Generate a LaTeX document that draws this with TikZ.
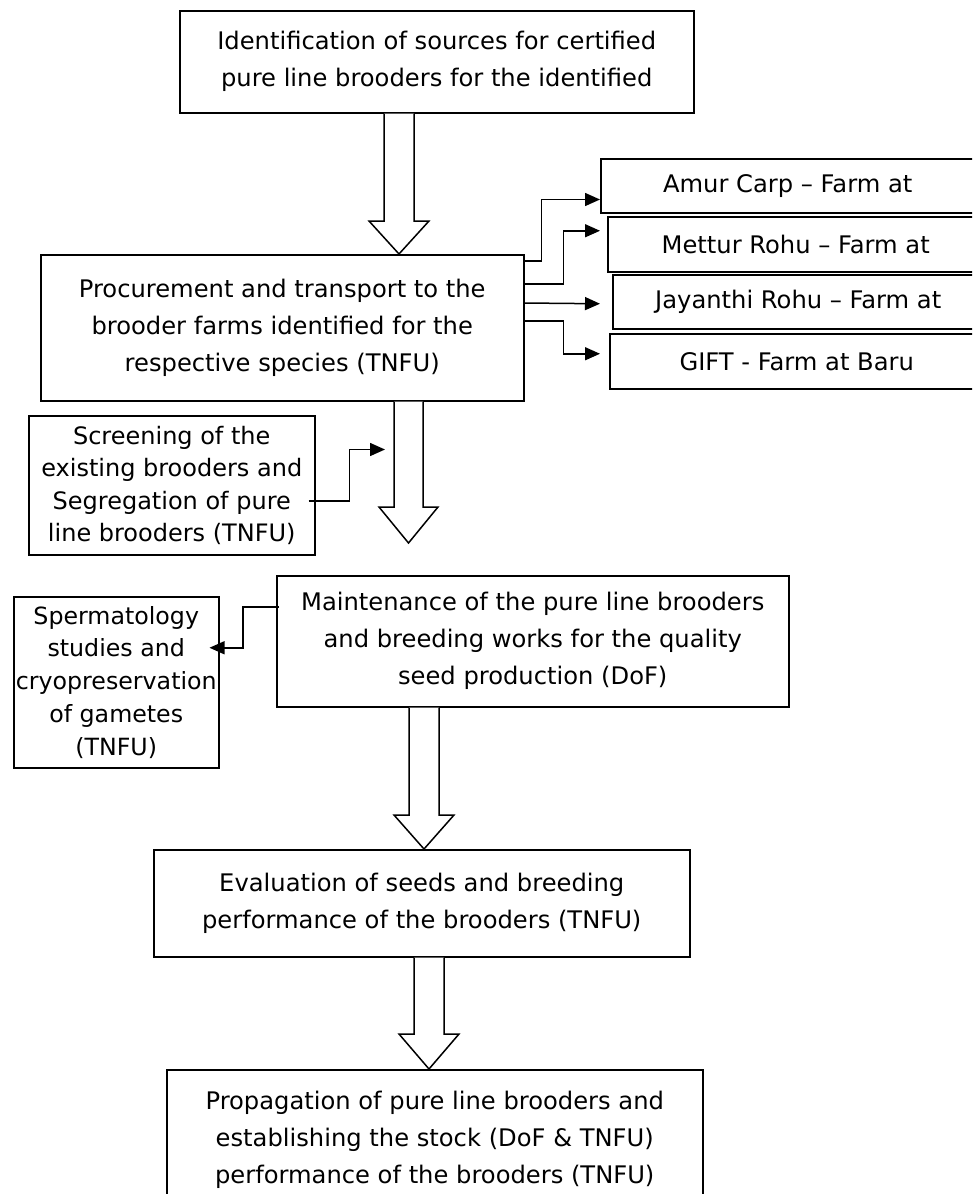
\documentclass[tikz,border=0pt]{standalone}
\usepackage{fontspec}
\setmainfont{DejaVu Sans}
\usetikzlibrary{arrows.meta,calc}
\newcommand\boxfont{\fontsize{24.2}{37}\selectfont}
\newcommand\tightfont{\fontsize{24}{32.5}\selectfont}
\newcommand\spermfont{\fontsize{23.7}{32.8}\selectfont}
% wide hollow block arrow: start, end, half shaft, half head, head length
\newcommand\hollowarrow[5]{%
  \draw[fatarrow] let \p1=(#1), \p2=(#2) in
    (\x1-#3pt,\y1) -- (\x1-#3pt,\y2+#5pt) -- (\x1-#4pt,\y2+#5pt) -- (\x1,\y2)
    -- (\x1+#4pt,\y2+#5pt) -- (\x1+#3pt,\y2+#5pt) -- (\x1+#3pt,\y1);}
\begin{document}
\begin{tikzpicture}[x=1pt,y=-1pt,
  box/.style={draw,line width=1.5pt,inner sep=0pt,align=center,anchor=north west,font=\boxfont},
  conn/.style={line width=1.5pt,-{Triangle[length=15pt,width=13pt]}},
  fatarrow/.style={draw,fill=white,line width=1.5pt,line join=miter}]
\useasboundingbox (0,0) rectangle (972,1194);
\clip (0,0) rectangle (972,1194);

% main column
\node[box,minimum width=514pt,minimum height=102pt] (top) at (179,10)
  {Identification of sources for certified\\pure line brooders for the identified};
\node[box,minimum width=483pt,minimum height=146pt] (proc) at (40,254)
  {Procurement and transport to the\\brooder farms identified for the\\respective species (TNFU)};
\node[box,minimum width=512pt,minimum height=131pt] (maint) at (276,575)
  {Maintenance of the pure line brooders\\and breeding works for the quality\\seed production (DoF)};
\node[box,minimum width=536pt,minimum height=107pt] (eval) at (153,849)
  {Evaluation of seeds and breeding\\performance of the brooders (TNFU)};
\node[box,minimum width=536pt,minimum height=141pt] (prop) at (166,1069)
  {Propagation of pure line brooders and\\establishing the stock (DoF \& TNFU)\\performance of the brooders (TNFU)};

% farms
\node[box,minimum width=374pt,minimum height=54pt] (amur) at (600,158) {Amur Carp – Farm at};
\node[box,minimum width=376pt,minimum height=55pt] (mettur) at (607,216) {Mettur Rohu – Farm at};
\node[box,minimum width=371pt,minimum height=54pt] (jayanthi) at (612,274) {Jayanthi Rohu – Farm at};
\node[box,minimum width=374pt,minimum height=55pt] (gift) at (609,333) {GIFT - Farm at Baru};

% side activities
\node[box,font=\tightfont,minimum width=286pt,minimum height=139pt] (screen) at (28,415)
  {Screening of the\\existing brooders and\\Segregation of pure\\line brooders (TNFU)};
\node[box,font=\spermfont,minimum width=205pt,minimum height=171pt] (sperm) at (13,596)
  {Spermatology\\studies and\\cryopreservation\\of gametes\\(TNFU)};

% block arrows down the column
\coordinate (gaptip) at ($(maint.north west)+(132.5,-32)$);
\hollowarrow{$(top.south west)+(220,0)$}{proc.north}{15}{30}{33}
\hollowarrow{$(proc.south west)+(368.5,0)$}{gaptip}{14.5}{29.5}{36}
\hollowarrow{$(maint.south west)+(148,0)$}{eval.north}{15}{30}{34}
\hollowarrow{$(eval.south west)+(276,0)$}{prop.north}{15}{30}{35}

% branches to the farms
\draw[conn] ($(proc.north east)+(0,7)$) -- ++(17,0) |- ($(amur.south west)+(0,-14)$);
\draw[conn] ($(proc.north east)+(0,30)$) -- ++(39,0) |- ($(mettur.west)+(-7,-13.5)$);
\draw[conn] ($(proc.north east)+(0,49)$) -- ($(jayanthi.west)+(-12,2)$);
\draw[conn] ($(proc.north east)+(0,67)$) -- ++(39,0) |- ($(gift.west)+(-9,-7.5)$);

% side links
\coordinate (scrtip) at ($(proc.south west)+(345,48)$);
\draw[conn] ($(screen.east)+(-7,15.5)$) -- ++(41,0) |- (scrtip);
\draw[conn] ($(maint.north west)+(3,32)$) -- ++(-36,0) |- ($(sperm.east)+(-10,-34.5)$);
\end{tikzpicture}
\end{document}
